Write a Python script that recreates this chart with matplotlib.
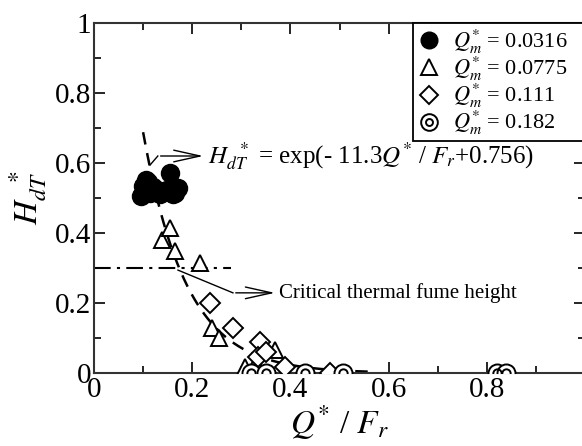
import matplotlib
matplotlib.use("Agg")
import matplotlib.pyplot as plt
from matplotlib.lines import Line2D
from matplotlib.legend_handler import HandlerTuple
from matplotlib.ticker import MultipleLocator, FuncFormatter
import numpy as np

plt.rcParams.update({
    "font.family": "Liberation Serif",
    "mathtext.fontset": "stix",
    "font.size": 21,
})

# Q*m = 0.0316 (filled circles)
x_0316 = [0.095, 0.100, 0.105, 0.110, 0.115, 0.120, 0.128, 0.135, 0.142, 0.149, 0.155, 0.160, 0.165, 0.171]
y_0316 = [0.505, 0.535, 0.550, 0.546, 0.515, 0.530, 0.523, 0.510, 0.520, 0.523, 0.571, 0.512, 0.515, 0.528]
# Q*m = 0.0775 (triangles)
x_0775 = [0.138, 0.155, 0.165, 0.216, 0.240, 0.255, 0.307, 0.330, 0.369]
y_0775 = [0.380, 0.414, 0.350, 0.314, 0.130, 0.100, 0.017, 0.030, 0.066]
# Q*m = 0.111 (diamonds)
x_111 = [0.236, 0.283, 0.338, 0.334, 0.350, 0.389, 0.480]
y_111 = [0.200, 0.130, 0.089, 0.046, 0.060, 0.017, 0.000]
# Q*m = 0.182 (double circles)
x_182 = [0.320, 0.350, 0.430, 0.507, 0.820, 0.840]
y_182 = [0.000, 0.000, 0.000, 0.000, 0.000, 0.000]

# fit: H = exp(a*Q/Fr + b)
fit_a, fit_b = -11.3, 0.756
fit_range = (0.10, 0.56)
critical_h = 0.30
critical_xmax = 0.28

fig = plt.figure(figsize=(5.82, 4.46), dpi=100)
ax = fig.add_axes([94 / 582, 73 / 446, 491 / 582, 350 / 446])

xf = np.linspace(*fit_range, 200)
ax.plot(xf, np.exp(fit_a * xf + fit_b), color="black", lw=1.8, ls=(0, (5, 3.5)), zorder=1)
ax.plot([0, critical_xmax], [critical_h, critical_h], color="black", lw=1.5,
        ls=(0, (8, 3, 1.5, 3)), zorder=1)

ax.plot(x_0316, y_0316, "o", ms=13, color="black", zorder=3)
kw = dict(ls="none", mfc="white", mec="black", mew=1.4, zorder=3)
ax.plot(x_0775, y_0775, "^", ms=12, **kw)
ax.plot(x_111, y_111, "D", ms=10, **kw)
ax.plot(x_182, y_182, "o", ms=13, **kw)
ax.plot(x_182, y_182, "o", ms=6, mfc="none", mec="black", mew=1.4, ls="none", zorder=4)

# annotation for fit equation
ax.plot([0.114, 0.130], [0.594, 0.620], color="black", lw=1)
ax.annotate("", xy=(0.228, 0.620), xytext=(0.130, 0.620),
            arrowprops=dict(arrowstyle="->,head_length=0.9,head_width=0.2", lw=1, color="black"))
ax.text(0.232, 0.620, r"$H_{dT}^{\ \ *}$ = exp(- 11.3$Q^{*}$ / $F_r$+0.756)",
        fontsize=18, va="center", ha="left", zorder=6)

# annotation for critical height
ax.plot([0.171, 0.283], [0.294, 0.229], color="black", lw=1)
ax.annotate("", xy=(0.374, 0.229), xytext=(0.283, 0.229),
            arrowprops=dict(arrowstyle="->,head_length=0.9,head_width=0.2", lw=1, color="black"))
ax.text(0.377, 0.229, "Critical thermal fume height", fontsize=15, va="center", ha="left")

ax.set_xlim(0, 1)
ax.set_ylim(0, 1)
ax.xaxis.set_major_locator(MultipleLocator(0.2))
ax.xaxis.set_minor_locator(MultipleLocator(0.1))
ax.yaxis.set_major_locator(MultipleLocator(0.2))
ax.yaxis.set_minor_locator(MultipleLocator(0.1))
ax.xaxis.set_major_formatter(FuncFormatter(lambda v, p: "" if v > 0.9 else f"{v:g}"))
ax.yaxis.set_major_formatter(FuncFormatter(lambda v, p: f"{v:g}"))
ax.tick_params(which="both", direction="in", top=True, right=True, width=1.2)
ax.tick_params(which="major", length=8)
ax.tick_params(which="minor", length=5)
ax.tick_params(axis="y", pad=2)
ax.tick_params(axis="x", pad=3)
for s in ax.spines.values():
    s.set_linewidth(1.5)
    s.set_color("#333333")

ax.set_xlabel(r"$Q^{*}$ / $F_r$", fontsize=24, labelpad=0)
ax.set_ylabel(r"$H_{dT}^{\ \ *}$", fontsize=24, labelpad=4)

h1 = Line2D([], [], marker="o", ms=12, color="black", ls="none")
h2 = Line2D([], [], marker="^", ms=11, **kw)
h3 = Line2D([], [], marker="D", ms=9, **kw)
h4a = Line2D([], [], marker="o", ms=12, **kw)
h4b = Line2D([], [], marker="o", ms=5, mfc="none", mec="black", mew=1.4, ls="none")
labels = [r"$Q^{*}_{m}$ = 0.0316", r"$Q^{*}_{m}$ = 0.0775",
          r"$Q^{*}_{m}$ = 0.111", r"$Q^{*}_{m}$ = 0.182"]
leg = ax.legend([h1, h2, h3, (h4a, h4b)], labels,
                handler_map={tuple: HandlerTuple(ndivide=1, pad=0)},
                loc="upper left", mode="expand",
                bbox_to_anchor=(413 / 582, 1 - 23 / 446, 180 / 582, 0),
                bbox_transform=fig.transFigure, fontsize=16, frameon=True,
                fancybox=False, edgecolor="black", framealpha=1,
                handlelength=1.0, handleheight=0.5, handletextpad=0.6,
                labelspacing=-0.05, borderpad=0.2, borderaxespad=0)
leg.get_frame().set_linewidth(1.3)
leg.set_zorder(5)

fig.savefig("out.png", dpi=100)
